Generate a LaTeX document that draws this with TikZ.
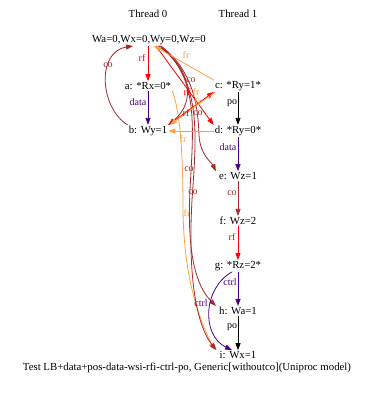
\documentclass[tikz,border=0pt]{standalone}
\usepackage{fontspec}
\setmainfont{Liberation Serif}
\usetikzlibrary{arrows.meta}
\definecolor{rfc}{HTML}{FF0000}
\definecolor{coc}{HTML}{A52A2A}
\definecolor{frc}{HTML}{FFA040}
\definecolor{dpc}{HTML}{4B0082}
\begin{document}
\begin{tikzpicture}[x=1pt,y=-1pt,
  font=\fontsize{10.8}{12}\selectfont,
  ev/.style={inner sep=1pt},
  lbl/.style={inner sep=0pt,font=\fontsize{10}{12}\selectfont},
  base/.style={-{Triangle[length=7pt,width=5pt]},line width=0.8pt},
  rfE/.style={base,draw=rfc},
  coE/.style={base,draw=coc},
  frE/.style={base,draw=frc},
  dpE/.style={base,draw=dpc},
  poE/.style={base,draw=black}]
\useasboundingbox (0,0) rectangle (374,394);
\fill[white] (0,0) rectangle (374,394);
% nodes
\node[ev] (th0) at (148,14) {Thread 0};
\node[ev] (th1) at (238,14) {Thread 1};
\node[ev] (init) at (149,40) {Wa=0,Wx=0,Wy=0,Wz=0};
\node[ev] (a) at (148,86) {a: *Rx=0*};
\node[ev] (b) at (148,131) {b: Wy=1};
\node[ev] (c) at (238,86) {c: *Ry=1*};
\node[ev] (d) at (238,131) {d: *Ry=0*};
\node[ev] (e) at (238,176) {e: Wz=1};
\node[ev] (f) at (238,221) {f: Wz=2};
\node[ev] (g) at (238,266) {g: *Rz=2*};
\node[ev] (h) at (238,311) {h: Wa=1};
\node[ev] (i) at (238,355) {i: Wx=1};
\node[ev] (cap) at (187,368) {Test LB+data+pos-data-wsi-rfi-ctrl-po, Generic[withoutco](Uniproc model)};
% long curved edges
\draw[frE] (a.south east) .. controls (180,112) and (183,150) .. (183,210) .. controls (184,290) and (205,330) .. ([xshift=-4pt]i.north west);
\draw[coE] ([xshift=10pt]init.south) .. controls (200,75) and (193,130) .. (190,190) .. controls (187,250) and (195,285) .. ([xshift=-2pt]h.north west);
\draw[coE] ([xshift=11pt]init.south) .. controls (203,80) and (196,140) .. (192,200) .. controls (187,290) and (200,330) .. ([xshift=-2pt]i.north west);
\draw[coE] ([xshift=12pt]init.south) .. controls (195,72) and (198,110) .. (199,135) .. controls (200,155) and (212,163) .. ([xshift=-2pt]e.north west);
\draw[coE] ([xshift=9pt]init.south) .. controls (192,68) and (196,102) .. (b.north east);
\draw[coE] (b.north west) .. controls (100,108) and (96,52) .. ([xshift=-16pt]init.south);
\draw[rfE] ([xshift=7pt]init.south) -- (d.north west);
\draw[frE] (c.north west) -- ([xshift=5pt]init.south);
\draw[rfE] (b.north east) -- (c.south west);
\draw[frE] ([xshift=1.5pt]c.south west) -- ([xshift=1.5pt]b.north east);
\draw[frE] (d.west) -- (b.east);
\draw[dpE] ([xshift=-6pt]g.south) .. controls (203,288) and (201,335) .. ([xshift=-6pt]i.north);
% straight edges
\draw[rfE] (a|-init.south) -- (a);
\draw[dpE] (a) -- (b);
\draw[poE] (c) -- (d);
\draw[dpE] (d) -- (e);
\draw[coE] (e) -- (f);
\draw[rfE] (f) -- (g);
\draw[dpE] (g) -- (h);
\draw[poE] (h) -- (i);
% labels
\node[lbl,text=rfc] (l1) at (142,58) {rf};
\node[lbl,text=dpc] (l2) at (138,102) {data};
\node[lbl,text=coc] (l3) at (108,65) {co};
\node[lbl,text=frc] (l4) at (186,55) {fr};
\node[lbl,text=coc] (l5) at (191,80) {co};
\node[lbl,text=rfc] (l6) at (187,92) {rf};
\node[lbl,text=frc] (l7) at (196,92) {fr};
\node[lbl,text=frc] (l8) at (198,102) {fr};
\node[lbl,text=rfc] (l9) at (186,113) {rf};
\node[lbl,text=coc] (l10) at (198,113) {co};
\node[lbl,text=frc] (l11) at (183,139) {fr};
\node[lbl,text=black] (l12) at (232,103) {po};
\node[lbl,text=dpc] (l13) at (228,147) {data};
\node[lbl,text=coc] (l14) at (189,169) {co};
\node[lbl,text=coc] (l15) at (193,192) {co};
\node[lbl,text=coc] (l16) at (232,193) {co};
\node[lbl,text=frc] (l17) at (187,213) {fr};
\node[lbl,text=rfc] (l18) at (232,237) {rf};
\node[lbl,text=dpc] (l19) at (230,282) {ctrl};
\node[lbl,text=dpc] (l20) at (201,303) {ctrl};
\node[lbl,text=black] (l21) at (232,327) {po};
\end{tikzpicture}
\end{document}
